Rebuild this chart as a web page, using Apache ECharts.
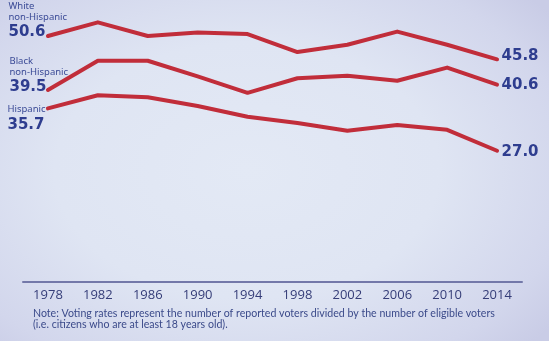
<!DOCTYPE html>
<html>
<head>
<meta charset="utf-8">
<script src="https://cdn.jsdelivr.net/npm/echarts@6/dist/echarts.min.js"></script>
<style>
html,body{margin:0;padding:0;}
#c{width:549px;height:341px;background:radial-gradient(ellipse 70% 75% at 45% 50%, #e3e9f5 0%, #dfe5f3 50%, #d2d6ec 85%, #c9cce6 100%);}
</style>
</head>
<body>
<div id="c"></div>
<script>
const years = ['1978','1982','1986','1990','1994','1998','2002','2006','2010','2014'];
const white = [50.6, 53.4, 50.6, 51.3, 51.0, 47.3, 48.8, 51.5, 48.8, 45.8];
const black = [39.5, 45.5, 45.5, 42.3, 38.9, 41.9, 42.4, 41.4, 44.1, 40.6];
const hispanic = [35.7, 38.4, 38.0, 36.2, 34.0, 32.7, 31.1, 32.3, 31.3, 27.0];
const groupNames = [['White', 'non-Hispanic'], ['Black', 'non-Hispanic'], ['Hispanic']];
const note = 'Note: Voting rates represent the number of reported voters divided by the number of eligible voters\n(i.e. citizens who are at least 18 years old).';

const RED = '#c12d3a';
const NAVY = '#2e3d8f';
const rich = {
  s: {fontFamily: 'Noto Sans', fontSize: 9.5, lineHeight: 11, color: '#3a4a96', align: 'left'},
  b: {fontFamily: 'DejaVu Sans', fontWeight: 'bold', fontSize: 15, lineHeight: 20, color: NAVY, align: 'left'}
};

function buildSeries(name, values, names, startPos, endOffset) {
  const data = values.map((v, i) => {
    const d = {value: v};
    if (i === 0) {
      d.label = {
        show: true, position: startPos, align: 'left', verticalAlign: 'top',
        formatter: names.map(n => '{s|' + n + '}').join('\n') + '\n{b|' + v.toFixed(1) + '}',
        rich: rich
      };
    } else if (i === values.length - 1) {
      d.label = {
        show: true, position: 'right', distance: 4, offset: endOffset,
        formatter: '{b|' + v.toFixed(1) + '}', rich: rich
      };
    }
    return d;
  });
  return {
    name: name, type: 'line', data: data,
    symbol: 'circle', symbolSize: 1, showSymbol: true,
    itemStyle: {color: RED},
    lineStyle: {color: RED, width: 4, cap: 'round', join: 'round'},
    label: {show: false},
    silent: true, animation: false
  };
}

const chart = echarts.init(document.getElementById('c'), null, {renderer: 'canvas'});
chart.setOption({
  backgroundColor: 'transparent',
  animation: false,
  title: {
    text: note, left: 28, top: 303,
    textStyle: {fontFamily: 'Lato', fontWeight: 'normal', fontSize: 10.6, lineHeight: 11, color: '#3b4a8a'}
  },
  grid: {left: 23, right: 27, top: 0, bottom: 59, containLabel: false},
  xAxis: {
    type: 'category', data: years, boundaryGap: true,
    axisLine: {lineStyle: {color: '#7378a9', width: 2}},
    axisTick: {show: false},
    axisLabel: {margin: 7, fontFamily: 'Open Sans', fontSize: 13, color: '#353d78'}
  },
  yAxis: {type: 'value', min: 0, max: 58, show: false, splitLine: {show: false}},
  series: [
    buildSeries('White non-Hispanic', white, groupNames[0], [-39, -35], [0, -3]),
    buildSeries('Black non-Hispanic', black, groupNames[1], [-38, -34], [0, 1]),
    buildSeries('Hispanic', hispanic, groupNames[2], [-40, -4], [0, 1])
  ]
});
</script>
</body>
</html>
